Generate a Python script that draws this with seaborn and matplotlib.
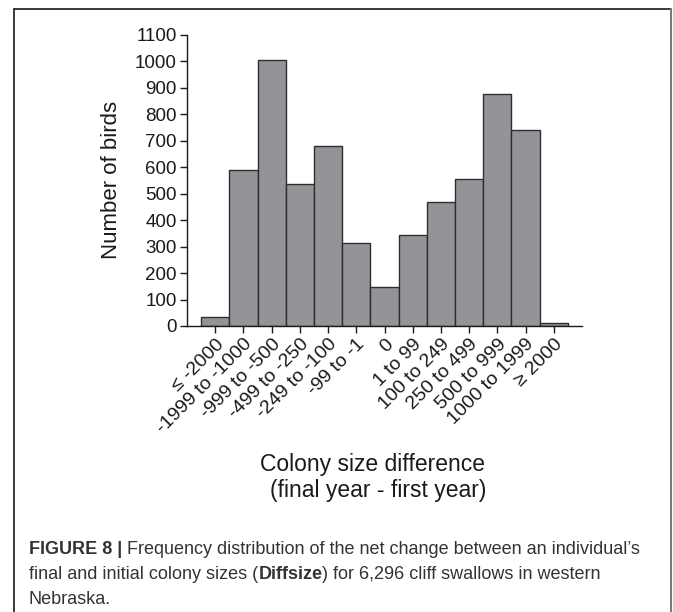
import matplotlib
matplotlib.use("Agg")
import matplotlib.pyplot as plt
from matplotlib.lines import Line2D
import seaborn as sns
import pandas as pd

# Colony size difference classes (final year - first year)
categories = ["≤ -2000", "-1999 to -1000", "-999 to -500", "-499 to -250",
              "-249 to -100", "-99 to -1", "0", "1 to 99", "100 to 249",
              "250 to 499", "500 to 999", "1000 to 1999", "≥ 2000"]
# Number of birds in each class
counts = [35, 588, 1006, 537, 678, 313, 147, 342, 467, 554, 876, 739, 11]
y_ticks = list(range(0, 1101, 100))

df = pd.DataFrame({"diff": categories, "birds": counts})

sns.set_theme(style="white")
plt.rcParams["font.family"] = ["Liberation Sans", "DejaVu Sans"]

W, H = 673, 612
fig = plt.figure(figsize=(W / 100, H / 100), dpi=100)

left, right, bottom, top = 186.5, 582, 326, 34.7
ax = fig.add_axes([left / W, 1 - bottom / H, (right - left) / W, (bottom - top) / H])

sns.barplot(data=df, x="diff", y="birds", order=categories, color="#939498",
            saturation=1, width=1.0, edgecolor="#2e2e2e", linewidth=1.0, ax=ax)

ax.set_xlim(-1.02, 13.0)
ax.set_ylim(0, 1100)
ax.set_yticks(y_ticks)
ax.set_yticklabels([str(v) for v in y_ticks], fontsize=13.5, color="#1a1a1a")
ax.set_xticks(range(len(categories)))
ax.set_xticklabels(categories, fontsize=14, color="#1a1a1a",
                   rotation=45, ha="right", rotation_mode="anchor")

for s in ["top", "right"]:
    ax.spines[s].set_visible(False)
for s in ["left", "bottom"]:
    ax.spines[s].set_color("#1a1a1a")
    ax.spines[s].set_linewidth(1.0)
ax.tick_params(axis="both", direction="out", length=5, width=1.0,
               color="#1a1a1a", pad=2, left=True, bottom=True)
ax.grid(False)

ax.set_xlabel("")
ax.set_ylabel("Number of birds", fontsize=16, color="#1a1a1a")
ax.yaxis.set_label_coords((122 - left) / (right - left), 0.5)

# axis title below the rotated labels
fig.text(373 / W, 1 - 464 / H, "Colony size difference", fontsize=16.5,
         color="#1a1a1a", ha="center", va="center")
fig.text(378 / W, 1 - 491 / H, "(final year - first year)", fontsize=16.5,
         color="#1a1a1a", ha="center", va="center")

# figure frame
fig.add_artist(Line2D([14 / W, 14 / W], [0, 1 - 9 / H], transform=fig.transFigure,
                      color="#1a1a1a", lw=1.2))
fig.add_artist(Line2D([14 / W, 671 / W], [1 - 9 / H, 1 - 9 / H], transform=fig.transFigure,
                      color="#1a1a1a", lw=1.2))
fig.add_artist(Line2D([671 / W, 671 / W], [0, 1 - 9 / H], transform=fig.transFigure,
                      color="#7a7a7a", lw=1.5))

# caption with bold fragments
cap_size = 13
cap_color = "#333333"
caption_lines = [
    [("FIGURE 8 | ", "bold"), ("Frequency distribution of the net change between an individual’s", "normal")],
    [("final and initial colony sizes (", "normal"), ("Diffsize", "bold"),
     (") for 6,296 cliff swallows in western", "normal")],
    [("Nebraska.", "normal")],
]
line_base = [554, 579, 604]
renderer = fig.canvas.get_renderer()
for segs, yy in zip(caption_lines, line_base):
    x = 29 / W
    for txt, wt in segs:
        t = fig.text(x, 1 - yy / H, txt, fontsize=cap_size, color=cap_color,
                     fontweight=wt, ha="left", va="baseline")
        bb = t.get_window_extent(renderer=renderer)
        x += bb.width / W

fig.savefig("out.png", dpi=100)
